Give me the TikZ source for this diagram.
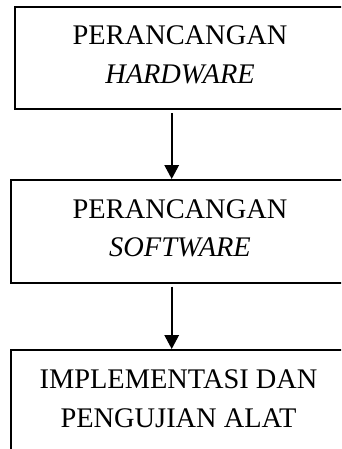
\documentclass[tikz,border=0pt]{standalone}
\usepackage{fontspec}
\setmainfont{Liberation Serif}
\usetikzlibrary{arrows.meta}
\tikzset{
  box/.style={draw=black, line width=2pt, rectangle, inner sep=0pt},
  txt/.style={inner sep=0pt, align=center, font=\fontsize{28.4}{38.4}\selectfont},
  arr/.style={draw=black, line width=1.6pt, -{Triangle[width=14.5pt,length=14pt]}}
}
\begin{document}
\begin{tikzpicture}[x=1pt,y=-1pt]
\useasboundingbox (0,0) rectangle (341,449);
\clip (0,0) rectangle (341,449);
\node[box, minimum width=329pt, minimum height=102pt] (b1) at (179,58) {};
\node[box, minimum width=336pt, minimum height=103pt] (b2) at (179,231.5) {};
\node[box, minimum width=336pt, minimum height=110pt] (b3) at (179,405) {};
\node[txt] (t1) at (180,55) {PERANCANGAN\\\textit{HARDWARE}};
\node[txt] (t2) at (180,228.3) {PERANCANGAN\\\textit{SOFTWARE}};
\node[txt] (t3) at (178.5,398.7) {IMPLEMENTASI DAN\\PENGUJIAN ALAT};
\coordinate (a1s) at ([xshift=-7.3pt,yshift=-3.5pt]b1.south);
\coordinate (a2s) at ([xshift=-7.3pt,yshift=-2.5pt]b2.south);
\draw[arr] (a1s) -- (a1s |- b2.north);
\draw[arr] (a2s) -- (a2s |- b3.north);
\end{tikzpicture}
\end{document}
